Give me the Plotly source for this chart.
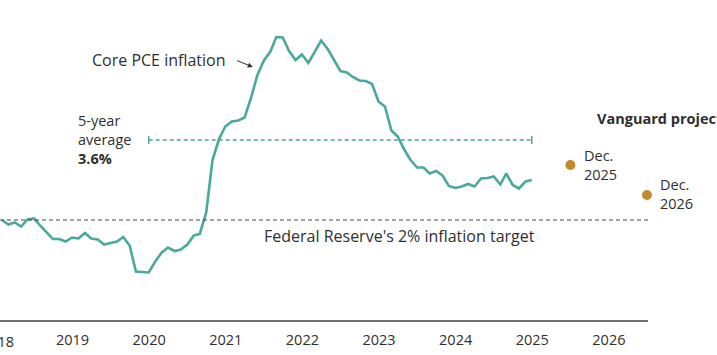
import plotly.graph_objects as go
import pandas as pd

# Core PCE inflation, year-over-year %, monthly (Jul 2018 - Jun 2025)
start_month = "2018-07"
core_pce = [
    2.00, 1.91, 1.95, 1.87, 2.01, 2.03,                                      # 2018 Jul-Dec
    1.88, 1.75, 1.62, 1.62, 1.57, 1.65, 1.63, 1.74, 1.63, 1.61, 1.51, 1.54,  # 2019
    1.57, 1.66, 1.49, 0.97, 0.96, 0.95, 1.17, 1.35, 1.45, 1.38, 1.41, 1.51,  # 2020
    1.69, 1.72, 2.15, 3.20, 3.62, 3.87, 3.97, 3.99, 4.05, 4.45, 4.90, 5.19,  # 2021
    5.37, 5.66, 5.65, 5.38, 5.20, 5.31, 5.14, 5.37, 5.59, 5.42, 5.21, 4.98,  # 2022
    4.95, 4.86, 4.79, 4.78, 4.72, 4.37, 4.27, 3.79, 3.67, 3.41, 3.20, 3.05,  # 2023
    3.05, 2.93, 2.98, 2.89, 2.68, 2.64, 2.67, 2.72, 2.67, 2.83, 2.84, 2.87,  # 2024
    2.71, 2.93, 2.70, 2.63, 2.77, 2.80,                                      # 2025 Jan-Jun
]
months = pd.period_range(start_month, periods=len(core_pce), freq="M")
dates = [p.end_time.normalize() for p in months]

# Vanguard projections
proj_labels = ["Dec.<br>2025", "Dec.<br>2026"]
proj_dates = ["2025-12-31", "2026-12-31"]
proj_values = [3.1, 2.5]

fed_target = 2.0
avg_5yr = 3.6
avg_start, avg_end = "2020-06-30", "2025-06-30"

X_RANGE = ["2018-07-22", "2027-01-05"]
TEAL = "#4aa89c"
GOLD = "#c28a2c"
TEXT = "#2f2f2f"
FONT = "Open Sans"
FS = 14.5
FS_BIG = 16


def paper_x(d):
    t0, t1 = pd.Timestamp(X_RANGE[0]), pd.Timestamp(X_RANGE[1])
    return (pd.Timestamp(d) - t0) / (t1 - t0)


fig = go.Figure()
fig.add_trace(go.Scatter(x=dates, y=core_pce, mode="lines",
                         line=dict(color=TEAL, width=2.6), hoverinfo="skip",
                         cliponaxis=False))
fig.add_trace(go.Scatter(x=proj_dates, y=proj_values, mode="markers",
                         marker=dict(color=GOLD, size=10), cliponaxis=False,
                         hoverinfo="skip"))

# Fed 2% target line
fig.add_shape(type="line", xref="paper", x0=0, x1=1, yref="y", y0=fed_target, y1=fed_target,
              line=dict(color="#444444", width=1, dash="4px,3px"))
# 5-year average line with end caps
fig.add_shape(type="line", xref="x", x0=avg_start, x1=avg_end, y0=avg_5yr, y1=avg_5yr,
              line=dict(color=TEAL, width=1.5, dash="4px,3px"))
for xe in (avg_start, avg_end):
    fig.add_shape(type="line", xref="x", x0=xe, x1=xe, y0=avg_5yr - 0.08, y1=avg_5yr + 0.08,
                  line=dict(color=TEAL, width=1.5))

ann = []
ann.append(dict(xref="paper", x=paper_x("2021-07-10"), y=5.2, text="Core PCE inflation",
                xanchor="right", yanchor="middle", showarrow=False,
                font=dict(family=FONT, size=FS_BIG, color=TEXT)))
ann.append(dict(x="2021-11-08", y=5.06, text="", showarrow=True, ax=-17, ay=-7,
                arrowhead=2, arrowsize=1, arrowwidth=1, arrowcolor=TEXT))
ann.append(dict(xref="paper", x=paper_x("2019-07-20"), y=3.62, text="5-year<br>average<br><b>3.6%</b>",
                xanchor="left", yanchor="middle", align="left", showarrow=False))
ann.append(dict(xref="paper", x=paper_x("2021-12-20"), y=1.68,
                text="Federal Reserve's 2% inflation target",
                xanchor="left", yanchor="middle", showarrow=False,
                font=dict(family=FONT, size=FS_BIG, color=TEXT)))
ann.append(dict(xref="paper", x=paper_x("2026-04-28"), y=4.04, text="<b>Vanguard projections</b>",
                xanchor="left", yanchor="middle", showarrow=False))
ann.append(dict(xref="paper", x=paper_x("2026-02-22"), y=3.1, text=proj_labels[0],
                xanchor="left", yanchor="middle", align="left", showarrow=False))
ann.append(dict(xref="paper", x=paper_x("2027-02-24"), y=2.52, text=proj_labels[1],
                xanchor="left", yanchor="middle", align="left", showarrow=False))
ann.append(dict(xref="paper", x=paper_x("2018-07-12"), yref="paper", y=0, text="2018",
                xanchor="center", yanchor="middle", yshift=-21, showarrow=False))
for a in ann:
    a.setdefault("font", dict(family=FONT, size=FS, color=TEXT))
fig.update_layout(annotations=ann)

fig.update_layout(
    width=717, height=355,
    margin=dict(l=0, r=69, t=0, b=35),
    paper_bgcolor="white", plot_bgcolor="white",
    showlegend=False,
    font=dict(family=FONT, size=FS, color=TEXT),
    xaxis=dict(type="date", range=X_RANGE,
               tick0="2018-01-01", dtick="M12", tickformat="%Y", ticklabelmode="period",
               ticks="", showgrid=False, zeroline=False, ticklabelstandoff=6,
               showline=True, linecolor="#6e6e6e", linewidth=1.5,
               tickfont=dict(family=FONT, size=FS, color=TEXT)),
    yaxis=dict(range=[0, 6.4], visible=False, showgrid=False, zeroline=False),
)

fig.write_html("out.html", config={"displayModeBar": False},
               post_script="document.body.style.margin='0px';")
